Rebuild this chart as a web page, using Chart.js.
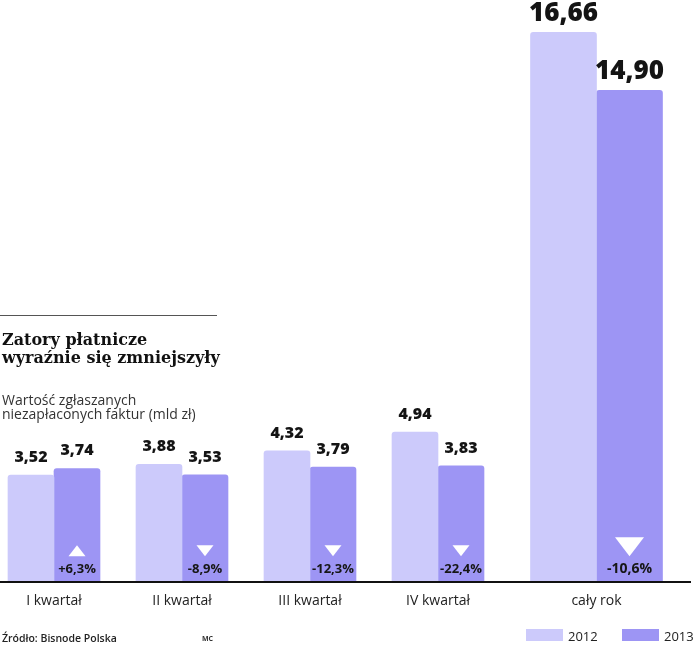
<!DOCTYPE html>
<html>
<head>
<meta charset="utf-8">
<script src="https://cdn.jsdelivr.net/npm/chart.js@4/dist/chart.umd.min.js"></script>
<style>
  html, body { margin: 0; padding: 0; background: #fff; }
  #wrap { position: relative; width: 698px; height: 658px; overflow: hidden; }
  .panel { position: absolute; top: 0; height: 658px; }
  #qpanel { left: -10px; width: 512px; }
  #apanel { left: 502px; width: 189px; }
  .abs { position: absolute; white-space: nowrap; }
  #rule { left: 0; top: 315px; width: 217px; height: 1px; background: #555; }
  #title { left: 2px; top: 331px; font: bold 16px/18px "DejaVu Serif", serif; color: #111; }
  #subtitle { left: 2px; top: 393px; font: 14px/14px "Open Sans", sans-serif; color: #333; }
  #source { left: 2px; top: 632px; font: 600 10.5px/12px "Open Sans", sans-serif; color: #222; }
  #mc { left: 202px; top: 635px; font: 700 7px/8px "Open Sans", sans-serif; color: #333; }
  .sw { position: absolute; width: 37px; height: 12px; }
  .lt { position: absolute; font: 13px/13px "Open Sans", sans-serif; color: #222; }
</style>
</head>
<body>
<div id="wrap">
  <div id="qpanel" class="panel"><canvas id="cq"></canvas></div>
  <div id="apanel" class="panel"><canvas id="ca"></canvas></div>
  <div id="rule" class="abs"></div>
  <div id="title" class="abs">Zatory płatnicze<br>wyraźnie się zmniejszyły</div>
  <div id="subtitle" class="abs">Wartość zgłaszanych<br>niezapłaconych faktur (mld zł)</div>
  <div id="source" class="abs">Źródło: Bisnode Polska</div>
  <div id="mc" class="abs">MC</div>
  <div id="legend"></div>
</div>
<script>
// ---- data ----
const categories = ['I kwartał', 'II kwartał', 'III kwartał', 'IV kwartał'];
const annualCategory = ['cały rok'];
const seriesNames = ['2012', '2013'];
const values2012 = [3.52, 3.88, 4.32, 4.94];
const values2013 = [3.74, 3.53, 3.79, 3.83];
const annual2012 = [16.66];
const annual2013 = [14.90];
const changeQuarter = [6.3, -8.9, -12.3, -22.4];
const changeAnnual = [-10.6];

// ---- styles ----
const colors = ['#cccafb', '#9d95f4'];
const Q_MAX = 19.15;   // quarterly panel scale
const A_MAX = 17.64;   // annual panel uses its own (different) scale, as in the original

const fmtVal = v => v.toFixed(2).replace('.', ',');
const fmtPct = c => (c > 0 ? '+' : '') + c.toFixed(1).replace('.', ',') + '%';

function makeLabelPlugin(big) {
  return {
    id: 'barLabels',
    afterDatasetsDraw(chart) {
      const ctx = chart.ctx;
      chart.data.datasets.forEach((ds, di) => {
        const meta = chart.getDatasetMeta(di);
        meta.data.forEach((bar, i) => {
          const v = ds.data[i];
          ctx.save();
          ctx.fillStyle = '#141414';
          ctx.textAlign = 'center';
          ctx.textBaseline = 'alphabetic';
          ctx.font = big ? '800 26px "Open Sans"' : '800 16px "Open Sans"';
          ctx.fillText(fmtVal(v), bar.x, bar.y - (big ? 11 : 13));
          if (ds.changes) {
            const ch = ds.changes[i];
            const base = bar.base;
            const w = big ? 29 : 17;
            const top = base - (big ? 45 : 37);
            const bot = base - 26;
            ctx.fillStyle = '#ffffff';
            ctx.beginPath();
            if (ch > 0) {
              ctx.moveTo(bar.x, top);
              ctx.lineTo(bar.x + w / 2, bot);
              ctx.lineTo(bar.x - w / 2, bot);
            } else {
              ctx.moveTo(bar.x - w / 2, top);
              ctx.lineTo(bar.x + w / 2, top);
              ctx.lineTo(bar.x, bot);
            }
            ctx.closePath();
            ctx.fill();
            ctx.fillStyle = '#161616';
            ctx.font = big ? '700 14px "Open Sans"' : '700 13px "Open Sans"';
            ctx.fillText(fmtPct(ch), bar.x, base - 9);
          }
          ctx.restore();
        });
      });
    }
  };
}

function makeChart(canvasId, labels, d2012, d2013, changes, thickness, yMax, big) {
  const bar = { borderRadius: 3, borderSkipped: 'start', barThickness: thickness };
  return new Chart(document.getElementById(canvasId), {
    type: 'bar',
    data: {
      labels: labels,
      datasets: [
        Object.assign({ label: seriesNames[0], data: d2012, backgroundColor: colors[0] }, bar),
        Object.assign({ label: seriesNames[1], data: d2013, backgroundColor: colors[1], changes: changes }, bar)
      ]
    },
    options: {
      responsive: true,
      maintainAspectRatio: false,
      animation: false,
      layout: { padding: { left: 0, right: 0, top: 0, bottom: 39 } },
      plugins: { legend: { display: false }, tooltip: { enabled: false } },
      scales: {
        x: {
          grid: { display: false, drawTicks: false },
          border: { display: true, color: '#111', width: 2, z: 1 },
          ticks: { padding: 10, color: '#222', font: { family: 'Open Sans', size: 14 }, maxRotation: 0, minRotation: 0, autoSkip: false }
        },
        y: { display: false, min: 0, max: yMax }
      }
    },
    plugins: [makeLabelPlugin(big)]
  });
}

makeChart('cq', categories, values2012, values2013, changeQuarter, 46, Q_MAX, false);
makeChart('ca', annualCategory, annual2012, annual2013, changeAnnual, 66, A_MAX, true);

// legend built from the series names and colours
const legend = document.getElementById('legend');
const legendPos = [526, 622];
seriesNames.forEach((name, i) => {
  const sw = document.createElement('div');
  sw.className = 'sw';
  sw.style.left = legendPos[i] + 'px';
  sw.style.top = '629px';
  sw.style.background = colors[i];
  legend.appendChild(sw);
  const t = document.createElement('div');
  t.className = 'lt';
  t.style.left = (legendPos[i] + 42) + 'px';
  t.style.top = '630px';
  t.textContent = name;
  legend.appendChild(t);
});
</script>
</body>
</html>
